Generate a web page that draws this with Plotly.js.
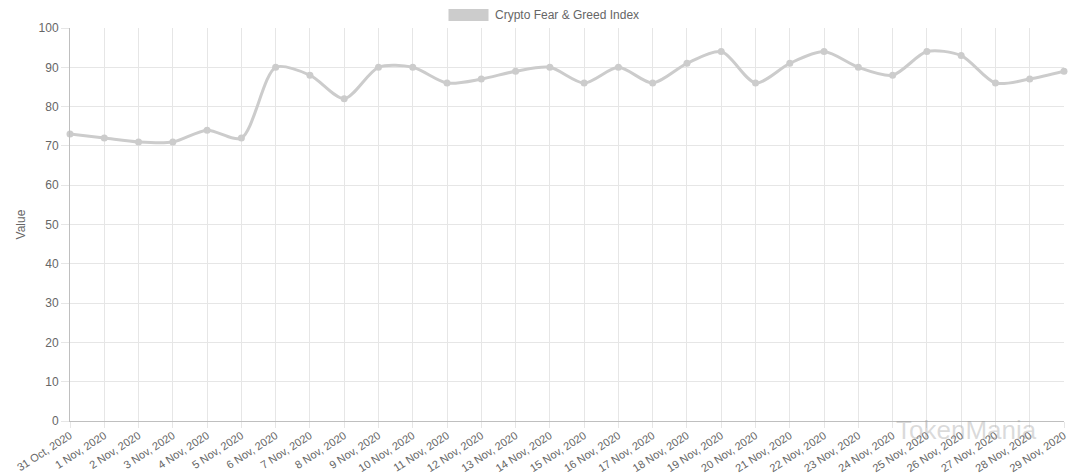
<!DOCTYPE html>
<html>
<head>
<meta charset="utf-8">
<script src="https://cdn.plot.ly/plotly-3.0.1.min.js"></script>
<style>html,body{margin:0;padding:0;background:#fff;}#chart{width:1080px;height:473px;}</style>
</head>
<body>
<div id="chart"></div>
<script>
const dates = ["31 Oct, 2020","1 Nov, 2020","2 Nov, 2020","3 Nov, 2020","4 Nov, 2020","5 Nov, 2020","6 Nov, 2020","7 Nov, 2020","8 Nov, 2020","9 Nov, 2020","10 Nov, 2020","11 Nov, 2020","12 Nov, 2020","13 Nov, 2020","14 Nov, 2020","15 Nov, 2020","16 Nov, 2020","17 Nov, 2020","18 Nov, 2020","19 Nov, 2020","20 Nov, 2020","21 Nov, 2020","22 Nov, 2020","23 Nov, 2020","24 Nov, 2020","25 Nov, 2020","26 Nov, 2020","27 Nov, 2020","28 Nov, 2020","29 Nov, 2020"];
const fearGreed = [73,72,71,71,74,72,90,88,82,90,90,86,87,89,90,86,90,86,91,94,86,91,94,90,88,94,93,86,87,89];
const seriesName = "Crypto Fear & Greed Index";
const yTicks = [0,10,20,30,40,50,60,70,80,90,100];

const trace = {
  x: dates, y: fearGreed, type: "scatter", mode: "lines+markers", name: seriesName,
  line: {color: "rgb(204,204,204)", width: 3, shape: "spline", smoothing: 0.8},
  marker: {color: "rgb(204,204,204)", size: 7},
  showlegend: false, cliponaxis: false
};
const font = {family: "Liberation Sans, Arial, sans-serif", size: 12, color: "#666"};
const xfont = {family: "Liberation Sans, Arial, sans-serif", size: 11, color: "#666"};
const layout = {
  width: 1080, height: 473,
  margin: {l: 70, r: 16, t: 28, b: 52},
  paper_bgcolor: "#fff", plot_bgcolor: "#fff",
  font: font,
  xaxis: {
    type: "category", range: [0, dates.length - 1],
    tickangle: -33, tickfont: xfont,
    showgrid: true, gridcolor: "#e6e6e6", gridwidth: 1,
    ticks: "outside", ticklen: 6, tickcolor: "#e6e6e6",
    ticklabelstandoff: -3,
    showline: true, linecolor: "#bfbfbf", linewidth: 1,
    zeroline: false, automargin: false
  },
  yaxis: {
    range: [0, 100], tickvals: yTicks, tickfont: font,
    showgrid: true, gridcolor: "#e6e6e6", gridwidth: 1,
    ticks: "outside", ticklen: 8, tickcolor: "#e6e6e6",
    showline: true, linecolor: "#bfbfbf", linewidth: 1,
    zeroline: false, automargin: false,
    title: {text: "Value", font: font, standoff: 10}
  },
  annotations: [
    {xref: "paper", yref: "paper", x: (493 - 70) / 994, y: 1.0, yanchor: "bottom", yshift: 4, xanchor: "left",
     text: seriesName, showarrow: false, font: font},
    {xref: "paper", yref: "paper", x: 0.975, y: 0.0, xanchor: "right", yanchor: "top", yshift: 8,
     text: "TokenMania", showarrow: false,
     font: {family: "Liberation Sans, Arial, sans-serif", size: 26, color: "rgba(150,150,150,0.35)"}}
  ]
};
Plotly.newPlot("chart", [trace], layout, {displayModeBar: false, staticPlot: true}).then(function(){
  const gd = document.getElementById("chart");
  const fl = gd._fullLayout;
  const annEl = gd.querySelector(".annotation");
  const r = annEl.getBoundingClientRect();
  const boxW = 40, boxH = 12;
  const x1px = r.left - 5, x0px = x1px - boxW;
  const ymid = r.top + r.height / 2;
  return Plotly.relayout(gd, {shapes: [{type: "rect", xref: "paper", yref: "paper",
    x0: (x0px - fl.margin.l) / fl._size.w, x1: (x1px - fl.margin.l) / fl._size.w,
    y0: 1 + (fl._size.t - ymid - boxH / 2) / fl._size.h, y1: 1 + (fl._size.t - ymid + boxH / 2) / fl._size.h,
    fillcolor: "rgb(204,204,204)", line: {width: 0}}]});
});
</script>
</body>
</html>
